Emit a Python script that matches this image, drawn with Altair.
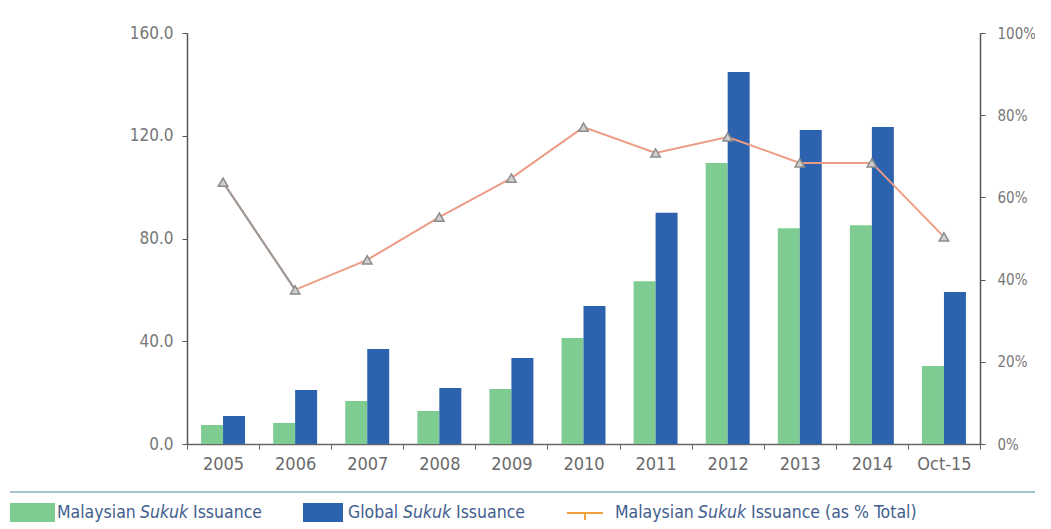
import altair as alt
import pandas as pd

years = ["2005", "2006", "2007", "2008", "2009", "2010", "2011", "2012", "2013", "2014", "Oct-15"]
malaysian = [7.4, 8.2, 16.7, 12.8, 21.4, 41.3, 63.4, 109.4, 84.0, 85.2, 30.4]
global_ = [10.9, 21.0, 37.0, 21.8, 33.5, 53.7, 90.0, 144.8, 122.2, 123.4, 59.2]
share_pct = [63.7, 37.5, 44.8, 55.2, 64.7, 77.1, 70.8, 74.7, 68.4, 68.4, 50.4]
series_names = ["Malaysian Sukuk Issuance", "Global Sukuk Issuance"]
left_ticks = [0, 40, 80, 120, 160]
right_ticks = [0, 20, 40, 60, 80, 100]

GREEN = "#7fcc93"
BLUE = "#2c62ae"
LINE = "#ec9c84"
GRAY_LINE = "#9a9a9a"
LEG_TXT = "#3f5e8e"
FONT = "DejaVu Sans Condensed, sans-serif"

bars_df = pd.DataFrame(
    [{"year": y, "series": series_names[0], "value": v} for y, v in zip(years, malaysian)]
    + [{"year": y, "series": series_names[1], "value": v} for y, v in zip(years, global_)]
)
line_df = pd.DataFrame({"year": years, "pct": share_pct})
first_seg = line_df.iloc[:2]

x_enc = alt.X(
    "year:N", sort=years, title=None,
    scale=alt.Scale(paddingInner=0, paddingOuter=0),
    axis=alt.Axis(labelAngle=0, tickBand="extent", labelFontSize=18, labelColor="#6b6b6b",
                  labelFont=FONT, domainColor="#666", tickColor="#666", tickSize=5,
                  labelPadding=6, domainWidth=1.5),
)

bars = alt.Chart(bars_df).mark_bar().encode(
    x=x_enc,
    xOffset=alt.XOffset("series:N", sort=series_names,
                        scale=alt.Scale(paddingInner=0, paddingOuter=0.64)),
    y=alt.Y("value:Q", title=None,
            scale=alt.Scale(domain=[0, 160], nice=False),
            axis=alt.Axis(values=left_ticks, format=".1f", grid=False, labelFontSize=17,
                          labelColor="#777", labelFont=FONT, domainColor="#555",
                          tickColor="#555", tickSize=5, labelPadding=9, domainWidth=1.5)),
    color=alt.Color("series:N", sort=series_names,
                    scale=alt.Scale(domain=series_names, range=[GREEN, BLUE]), legend=None),
)

y_right = alt.Y("pct:Q", title=None,
                scale=alt.Scale(domain=[0, 100], nice=False),
                axis=alt.Axis(orient="right", values=right_ticks, grid=False,
                              labelExpr="datum.value + '%'", labelFontSize=15,
                              labelColor="#777", labelFont=FONT, domainColor="#555",
                              tickColor="#555", tickSize=5, labelPadding=12, domainWidth=1.5))

line = alt.Chart(line_df).mark_line(color=LINE, strokeWidth=2).encode(
    x=alt.X("year:N", sort=years), y=y_right)
line_gray = alt.Chart(first_seg).mark_line(color=GRAY_LINE, strokeWidth=2).encode(
    x=alt.X("year:N", sort=years), y=alt.Y("pct:Q", scale=alt.Scale(domain=[0, 100], nice=False)))
pts = alt.Chart(line_df).mark_point(shape="triangle-up", size=90, filled=True,
                                     fill="#cfcfcf", stroke="#8c8c8c", strokeWidth=1.5,
                                     opacity=1).encode(
    x=alt.X("year:N", sort=years), y=alt.Y("pct:Q", scale=alt.Scale(domain=[0, 100], nice=False)))

right_layer = alt.layer(line, line_gray, pts)

one = pd.DataFrame({"k": [0]})


def txt(s, x, y, italic=False, color=LEG_TXT, size=17.5):
    return alt.Chart(one).mark_text(
        text=s, align="left", baseline="middle", font=FONT, fontSize=size,
        fontStyle="italic" if italic else "normal", color=color,
    ).encode(x=alt.value(x), y=alt.value(y))


def box(x1, x2, y1, y2, color):
    return alt.Chart(one).mark_rect(color=color).encode(
        x=alt.value(x1), x2=alt.value(x2), y=alt.value(y1), y2=alt.value(y2))


LY = 480
deco = [
    alt.Chart(one).mark_rule(color="#a9c2d2", strokeWidth=2).encode(
        x=alt.value(-177), x2=alt.value(864), y=alt.value(459)),
    box(-177, -132, 470, 489, GREEN),
    txt("Malaysian", -130, LY), txt("Sukuk", -47, LY, italic=True), txt("Issuance", 6, LY),
    box(116, 156, 470, 489, BLUE),
    txt("Global", 161, LY), txt("Sukuk", 216, LY, italic=True), txt("Issuance", 269, LY),
    alt.Chart(one).mark_rule(color="#f0a040", strokeWidth=2).encode(
        x=alt.value(380), x2=alt.value(416), y=alt.value(LY)),
    alt.Chart(one).mark_rule(color="#f0a040", strokeWidth=2).encode(
        x=alt.value(398), y=alt.value(LY), y2=alt.value(LY + 7)),
    txt("Malaysian", 428, LY), txt("Sukuk", 511, LY, italic=True),
    txt("Issuance (as % Total)", 564, LY),
]

chart = alt.layer(bars, right_layer, *deco).resolve_scale(
    y="independent"
).properties(
    width=793, height=411,
    background="white",
    autosize=alt.AutoSizeParams(type="none"),
    padding={"left": 179, "top": 25, "right": 55, "bottom": 82},
).configure_view(stroke=None)

chart.save("out.html", embed_options={"renderer": "svg", "actions": False})
